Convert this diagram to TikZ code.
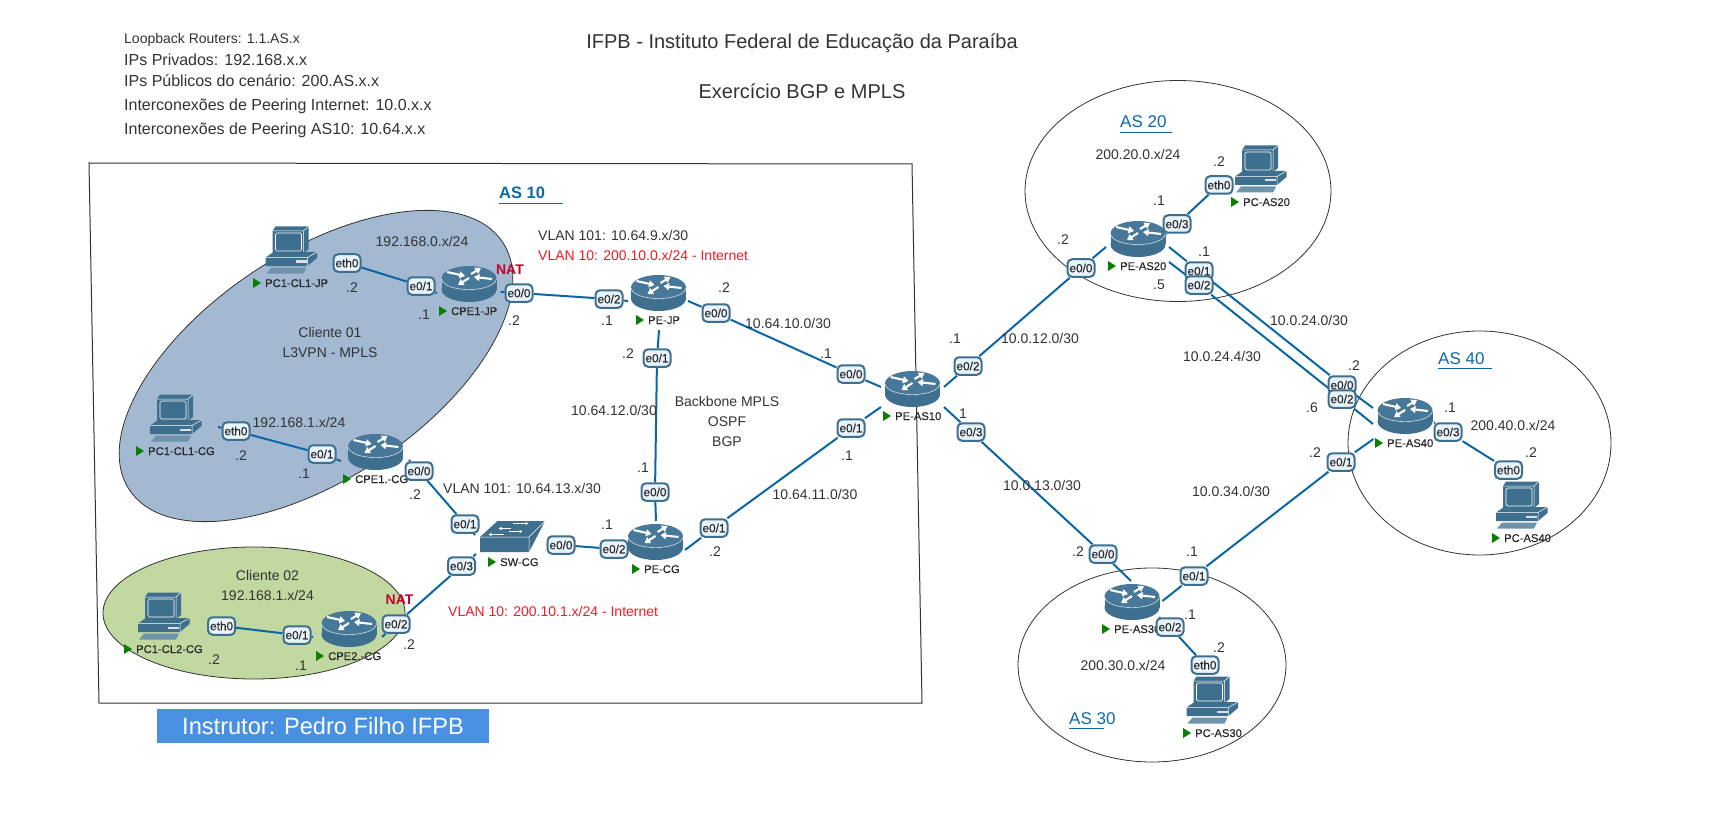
\documentclass[tikz,border=0pt]{standalone}
\usepackage{fontspec}
\setmainfont{Liberation Sans}
\newfontfamily\medfont[FakeBold=0.35]{Liberation Sans}
\usetikzlibrary{arrows.meta}
\definecolor{txt}{HTML}{333333}
\definecolor{lnk}{HTML}{0B66A5}
\definecolor{dev}{HTML}{3E6F8E}
\definecolor{devtop}{HTML}{47789A}
\definecolor{ifill}{HTML}{E8F3FB}
\definecolor{asblue}{HTML}{0E69A8}
\definecolor{natred}{HTML}{C8002A}
\definecolor{vlanred}{HTML}{EE1C25}
\definecolor{greenrun}{HTML}{0A8000}
\definecolor{cl1}{HTML}{A3B9D2}
\definecolor{cl2}{HTML}{C1D8A0}
\definecolor{instr}{HTML}{4A90E2}
\pgfdeclarelayer{bgl}\pgfdeclarelayer{linkl}
\pgfsetlayers{bgl,linkl,main}
\newcounter{tn}
\newcommand{\tx}[4][]{\stepcounter{tn}\node[lbl,#1] (t\arabic{tn}) at (#2,#3) {#4};}
\newcommand{\txl}[4][]{\stepcounter{tn}\node[lbl,anchor=west,#1] (t\arabic{tn}) at (#2,#3) {#4};}
\newcommand{\devl}[3]{\stepcounter{tn}\fill[greenrun] (#1-4,#2-5) -- (#1+4,#2) -- (#1-4,#2+5) -- cycle;
  \node[devlabel] (t\arabic{tn}) at (#1+8,#2) {#3};}
\newcommand{\ifc}[4]{\node[iface] (#1) at (#2,#3) {#4};}
\newcommand{\asl}[5][]{\stepcounter{tn}\node[lbl,anchor=west,text=asblue,font=\fontsize{17}{20}\selectfont,text height=12pt,#1] (t\arabic{tn}) at (#2,#3) {#4};
  \draw[asblue,line width=0.8pt] (#2,#3+10) -- (#5,#3+10);}
\tikzset{
  lbl/.style={font=\fontsize{14}{16}\selectfont,text=txt,inner sep=0pt,text height=10pt,text depth=0pt},
  devlabel/.style={anchor=west,inner sep=0pt,text=txt!80!black,font=\fontsize{11.2}{13}\medfont,text height=8pt,text depth=0pt},
  iface/.style={draw=dev,fill=ifill,line width=2pt,rounded corners=4.5pt,minimum width=27pt,minimum height=17.5pt,inner sep=0pt,font=\fontsize{11.8}{13}\medfont,text=txt!80!black,text height=8.5pt,text depth=0pt},
  link/.style={draw=lnk,line width=2pt,line join=round},
  devbox/.style={inner sep=0pt,minimum width=54pt,minimum height=36pt},
  pcbox/.style={inner sep=0pt,minimum width=51pt,minimum height=47pt},
  wh/.style={white,line width=2.1pt,-{Triangle[length=5.5pt,width=7pt]}},
  router/.pic={
    \fill[dev] (0,5.5) ellipse [x radius=27.5pt,y radius=12.5pt];
    \fill[dev] (-27.5,-5.5) rectangle (27.5,5.5);
    \fill[devtop] (0,-5.5) ellipse [x radius=27.5pt,y radius=12.5pt];
    \draw[white,line width=0.4pt] (-27.5,-5) .. controls (-25,9) and (25,9) .. (27.5,-5);
    \draw[wh] (-22,-12) -- (-4,-8);
    \draw[wh] (2,-10) -- (12,-16);
    \draw[wh] (23,-5) -- (5,-7);
    \draw[wh] (0,-6) -- (-11,1);
  },
  pc/.pic={
    \fill[dev] (-19,-19) -- (-16,-23.5) -- (17,-23.5) -- (17,-1) -- (12,3) -- (-19,3) -- cycle;
    \draw[white,line width=0.5pt] (12,-19) -- (17,-23.5) (12,-19) -- (12,3) (-19,-19) -- (12,-19);
    \draw[white,line width=0.7pt,rounded corners=1.5pt] (-16,-17) rectangle (10,1);
    \fill[dev] (-26,7.5) -- (-18,2) -- (25.5,2) -- (25.5,8) -- (16,16) -- (-26,16) -- cycle;
    \draw[white,line width=0.5pt] (-26,7.5) -- (16,7.5) -- (25.5,2) (16,7.5) -- (16,16);
    \fill[white!80!dev] (4,10.5) rectangle (15,12.5);
    \fill[dev!75!white] (-20,17.5) -- (15,17.5) -- (12,23.5) -- (-25,23.5) -- cycle;
  },
  switch/.pic={
    \fill[dev] (-32.5,0.5) -- (-15,-15.5) -- (32.5,-15.5) -- (16.5,15.5) -- (-32.5,15.5) -- cycle;
    \draw[white,line width=0.5pt] (-32.5,0.5) -- (16.5,0.5) -- (32.5,-15.5) (16.5,0.5) -- (16.5,15.5);
    \draw[white,line width=0.9pt,-{Triangle[length=3pt,width=3pt]}] (0,-13) -- (16,-13);
    \draw[white,line width=0.9pt,-{Triangle[length=3pt,width=3pt]}] (-2,-8) -- (-14,-8);
    \draw[white,line width=0.9pt,-{Triangle[length=3pt,width=3pt]}] (-4,-5) -- (10,-5);
    \draw[white,line width=0.9pt,-{Triangle[length=3pt,width=3pt]}] (-9,-2) -- (-24,-2);
  }
}
\begin{document}
\begin{tikzpicture}[x=1pt,y=-1pt]
\useasboundingbox (0,0) rectangle (1736,818);
% backgrounds
\begin{pgfonlayer}{bgl}
\fill[white] (0,0) rectangle (1736,818);
\draw[draw=txt,line width=1pt] (89,163) -- (912,164) -- (922,703) -- (99,703) -- cycle;
\draw[draw=txt,fill=cl1,line width=0.8pt,rotate around={33.6:(316,366)}] (316,366) ellipse [x radius=224pt,y radius=113pt];
\draw[draw=txt,fill=cl2,line width=0.8pt] (254,613) ellipse [x radius=151pt,y radius=66pt];
\draw[draw=txt,line width=0.8pt] (1178,191) ellipse [x radius=153pt,y radius=110.5pt];
\draw[draw=txt,line width=0.8pt] (1479.5,443) ellipse [x radius=131.5pt,y radius=112pt];
\draw[draw=txt,line width=0.8pt] (1152,665) ellipse [x radius=134pt,y radius=97pt];
\end{pgfonlayer}
% devices
\foreach \n/\x/\y in {cpejp/469/284,cpecg/375.5/452,cpetwo/349/629,pejp/658.5/293,pecg/655.5/542,peten/912.5/389,petw/1138/239,pefo/1405/416,peth/1132/602}{
  \node[devbox] (\n) at (\x,\y) {};
  \pic at (\x,\y) {router};
}
\foreach \n/\x/\y in {pca/291.5/250,pcb/176/418,pcc/164/616,pcd/1261/169,pce/1522/505,pcf/1212.5/700}{
  \node[pcbox] (\n) at (\x,\y) {};
  \pic at (\x,\y) {pc};
}
\node[inner sep=0pt,minimum width=65pt,minimum height=31pt] (swcg) at (512.5,536.5) {};
\pic at (512.5,536.5) {switch};
% device labels
\devl{257}{283}{PC1-CL1-JP}
\devl{443}{311}{CPE1-JP}
\devl{140}{451}{PC1-CL1-CG}
\devl{347}{479}{CPE1.-CG}
\devl{128}{649}{PC1-CL2-CG}
\devl{320}{656}{CPE2.-CG}
\devl{492}{562}{SW-CG}
\devl{636}{569}{PE-CG}
\devl{640}{320}{PE-JP}
\devl{887}{416}{PE-AS10}
\devl{1112}{266}{PE-AS20}
\devl{1235}{202}{PC-AS20}
\devl{1379}{443}{PE-AS40}
\devl{1496}{538}{PC-AS40}
\devl{1106}{629}{PE-AS30}
\devl{1187}{733}{PC-AS30}
% interface labels
\ifc{ia}{347}{263}{eth0}
\ifc{ib}{421}{286}{e0/1}
\ifc{ic}{519}{293}{e0/0}
\ifc{id}{236}{431}{eth0}
\ifc{ie}{322}{454}{e0/1}
\ifc{if}{419}{471}{e0/0}
\ifc{ig}{465}{524}{e0/1}
\ifc{ih}{461.5}{566}{e0/3}
\ifc{ii}{561}{545}{e0/0}
\ifc{ij}{614}{549}{e0/2}
\ifc{ik}{396}{624}{e0/2}
\ifc{il}{297}{635}{e0/1}
\ifc{im}{221.6}{626}{eth0}
\ifc{in}{609}{299}{e0/2}
\ifc{io}{716}{313}{e0/0}
\ifc{ip}{657}{358}{e0/1}
\ifc{iq}{655}{492}{e0/0}
\ifc{ir}{714}{528}{e0/1}
\ifc{is}{851}{374}{e0/0}
\ifc{it}{851}{428}{e0/1}
\ifc{iu}{968}{366}{e0/2}
\ifc{iv}{971}{432}{e0/3}
\ifc{iw}{1081}{268}{e0/0}
\ifc{ix}{1177}{224}{e0/3}
\ifc{iy}{1219}{185}{eth0}
\ifc{iz}{1199}{271}{e0/1}
\ifc{ja}{1199}{285}{e0/2}
\ifc{jb}{1342}{385}{e0/0}
\ifc{jc}{1342}{399}{e0/2}
\ifc{jd}{1341}{462}{e0/1}
\ifc{je}{1448}{432}{e0/3}
\ifc{jf}{1508.5}{470}{eth0}
\ifc{jg}{1103}{554}{e0/0}
\ifc{jh}{1194}{576}{e0/1}
\ifc{ji}{1170}{627}{e0/2}
\ifc{jj}{1205}{665}{eth0}
% connector ends beside the devices
\coordinate (qa) at (437,293);
\coordinate (qb) at (218,427);
\coordinate (qc) at (341,461);
\coordinate (qd) at (500.7,292);
\coordinate (qe) at (628,301);
\coordinate (qf) at (688,301);
\coordinate (qg) at (881,387);
\coordinate (qh) at (659,330);
\coordinate (qi) at (656,521);
\coordinate (qj) at (685,550);
\coordinate (qk) at (881,407);
\coordinate (ql) at (548,545);
\coordinate (qm) at (630,550);
\coordinate (qn) at (409,460);
\coordinate (qo) at (475,535);
\coordinate (qp) at (382,637);
\coordinate (qq) at (476,554);
\coordinate (qr) at (313,637);
\coordinate (qs) at (944,387);
\coordinate (qt) at (1106,247);
\coordinate (qu) at (944,407);
\coordinate (qv) at (1131,581);
\coordinate (qw) at (1165,235);
\coordinate (qx) at (1169,247);
\coordinate (qy) at (1373,408);
\coordinate (qz) at (1169,262);
\coordinate (ra) at (1373,424);
\coordinate (rb) at (1373.5,439);
\coordinate (rc) at (1162.4,601);
\coordinate (rd) at (1435,423);
\coordinate (re) at (1160,618);
\begin{pgfonlayer}{linkl}
\draw[link] (ia) -- (ib) -- (qa);
\draw[link] (qb) -- (id) -- (ie) -- (qc);
\draw[link] (qd) -- (ic) -- (in) -- (qe);
\draw[link] (qf) -- (io) -- (is) -- (qg);
\draw[link] (qh) -- (ip) -- (iq) -- (qi);
\draw[link] (qj) -- (ir) -- (it) -- (qk);
\draw[link] (ql) -- (ii) -- (ij) -- (qm);
\draw[link] (qn) -- (if) -- (ig) -- (qo);
\draw[link] (qp) -- (ik) -- (ih) -- (qq);
\draw[link] (im) -- (il) -- (qr);
\draw[link] (qs) -- (iu) -- (iw) -- (qt);
\draw[link] (qu) -- (iv) -- (jg) -- (qv);
\draw[link] (qw) -- (ix) -- (iy);
\draw[link] (qx) -- (iz) -- (jb) -- (qy);
\draw[link] (qz) -- (ja) -- (jc) -- (ra);
\draw[link] (rb) -- (jd) -- (jh) -- (rc);
\draw[link] (rd) -- (je) -- (jf);
\draw[link] (re) -- (ji) -- (jj);
\end{pgfonlayer}
% header
\txl[font=\fontsize{14}{16}\selectfont]{124}{39}{Loopback Routers: 1.1.AS.x}
\txl[font=\fontsize{16}{18}\selectfont]{124}{61}{IPs Privados: 192.168.x.x}
\txl[font=\fontsize{16}{18}\selectfont]{124}{82}{IPs Públicos do cenário: 200.AS.x.x}
\txl[font=\fontsize{16}{18}\selectfont]{124}{106}{Interconexões de Peering Internet: 10.0.x.x}
\txl[font=\fontsize{16}{18}\selectfont]{124}{130}{Interconexões de Peering AS10: 10.64.x.x}
\tx[font=\fontsize{20}{23}\selectfont]{802}{44}{IFPB - Instituto Federal de Educação da Paraíba}
\tx[font=\fontsize{20}{23}\selectfont]{802}{94}{Exercício BGP e MPLS}
% AS titles
\stepcounter{tn}\node[lbl,anchor=west,text=asblue,font=\fontsize{16.5}{20}\bfseries,text height=12pt] (t\arabic{tn}) at (499,193) {AS 10};
\draw[asblue,line width=0.8pt] (499,203) -- (563,203);
\asl{1120}{122}{AS 20}{1172}
\asl{1438}{358}{AS 40}{1492}
\asl{1069}{718}{AS 30}{1104}
% subnet labels
\tx{422}{242}{192.168.0.x/24}
\tx{299}{422}{192.168.1.x/24}
\tx{330}{332}{Cliente 01}
\tx{330}{352}{L3VPN - MPLS}
\tx{267.5}{575}{Cliente 02}
\tx{267.5}{595}{192.168.1.x/24}
\txl{443}{488}{VLAN 101: 10.64.13.x/30}
\txl{538}{236}{VLAN 101: 10.64.9.x/30}
\txl[text=vlanred]{538}{256}{VLAN 10: 200.10.0.x/24 - Internet}
\txl[text=vlanred]{448}{611}{VLAN 10: 200.10.1.x/24 - Internet}
\tx{788}{323}{10.64.10.0/30}
\tx{614}{410}{10.64.12.0/30}
\tx{815}{494}{10.64.11.0/30}
\tx{727}{401}{Backbone MPLS}
\tx{727}{421}{OSPF}
\tx{727}{441}{BGP}
\tx{1138}{155}{200.20.0.x/24}
\tx{1309}{320}{10.0.24.0/30}
\tx{1222}{356}{10.0.24.4/30}
\tx{1040}{338}{10.0.12.0/30}
\tx{1513}{425}{200.40.0.x/24}
\tx{1042}{485}{10.0.13.0/30}
\tx{1231}{491}{10.0.34.0/30}
\tx{1123}{665}{200.30.0.x/24}
% NAT
\tx[text=natred,font=\fontsize{14}{16}\bfseries]{510}{269}{NAT}
\tx[text=natred,font=\fontsize{14}{16}\bfseries]{399.6}{599}{NAT}
% addresses
\foreach \x/\y/\s in {352/287/.2,424/314/.1,514/320/.2,241/455/.2,304/473/.1,415/494/.2,724/287/.2,607/320/.1,826/353/.1,628/353/.2,643/467/.1,607/524/.1,715/551/.2,847/455/.1,955/338/.1,963/413/1,409/644/.2,214/659/.2,301/665/.1,1219/162/.2,1159/201/.1,1063/240/.2,1204/252/.1,1159/284/.5,1354/365/.2,1312/407/.6,1450/407/.1,1531/452/.2,1315/452/.2,1078/551/.2,1192/551/.1,1190/614/.1,1219/647/.2}{
  \tx{\x}{\y}{\s}
}
% instructor
\node[fill=instr,text=white,inner sep=0pt,minimum width=332pt,minimum height=34pt,font=\fontsize{23.6}{26}\selectfont] (instrutor) at (323,726) {Instrutor: Pedro Filho IFPB};
\end{tikzpicture}
\end{document}
